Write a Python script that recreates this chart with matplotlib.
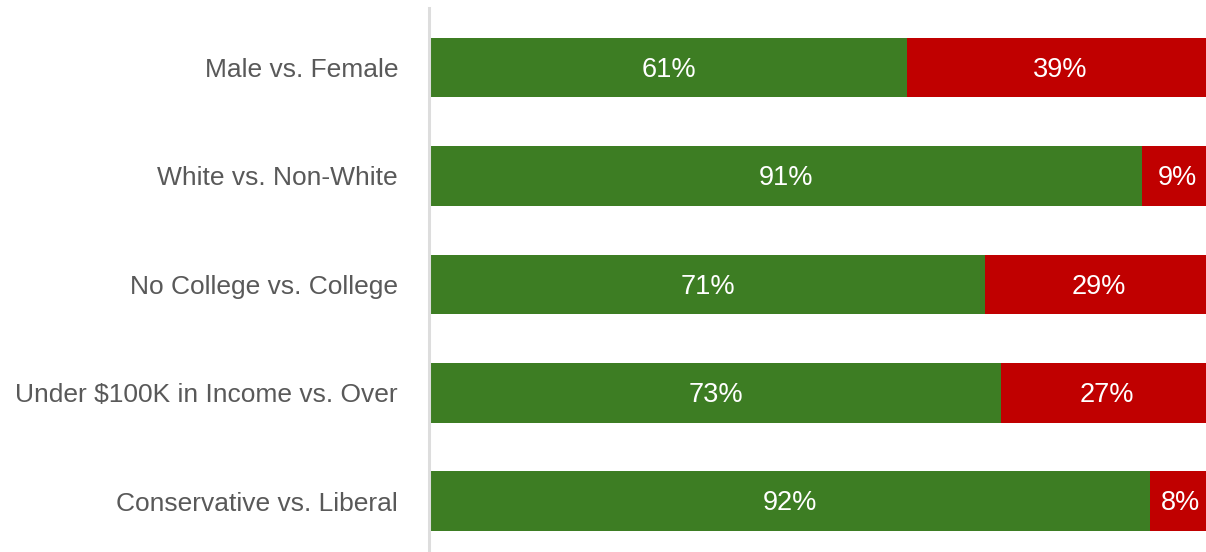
import matplotlib
matplotlib.use("Agg")
import matplotlib.pyplot as plt

categories = ["Male vs. Female", "White vs. Non-White", "No College vs. College",
              "Under $100K in Income vs. Over", "Conservative vs. Liberal"]
first_share = [61, 91, 71, 73, 92]
second_share = [39, 9, 29, 27, 8]

plt.rcParams['font.family'] = ['Liberation Sans', 'DejaVu Sans']

W, H = 1206, 552
fig = plt.figure(figsize=(W / 100, H / 100), dpi=100)
left = 430 / W
ax = fig.add_axes([left, 0, 1 - left, 1 - 8 / H])

green = "#3d7d23"
red = "#c00000"
y = list(range(len(categories)))
h = 0.55
ax.barh(y, first_share, height=h, color=green, linewidth=0)
ax.barh(y, second_share, left=first_share, height=h, color=red, linewidth=0)

fs = 19
for i in y:
    ax.text(first_share[i] / 2, i + 0.02, f"{first_share[i]}%", ha="center", va="center",
            color="white", fontsize=fs + 0.5)
    ax.text(first_share[i] + second_share[i] / 2, i + 0.02, f"{second_share[i]}%", ha="center",
            va="center", color="white", fontsize=fs + 0.5)

ax.set_xlim(0, 99.2)
ax.set_ylim(4.47, -0.55)
ax.set_yticks(y)
ax.set_yticklabels(categories)
ax.tick_params(axis="y", length=0, pad=22, labelsize=fs, labelcolor="#595959")
for lab in ax.get_yticklabels():
    lab.set_verticalalignment("center")
ax.set_xticks([])
for s in ["top", "right", "bottom"]:
    ax.spines[s].set_visible(False)
ax.spines["left"].set_color("#dddddd")
ax.spines["left"].set_linewidth(2.2)
ax.spines["left"].set_position(("outward", 1))

fig.savefig("out.png", dpi=100)
